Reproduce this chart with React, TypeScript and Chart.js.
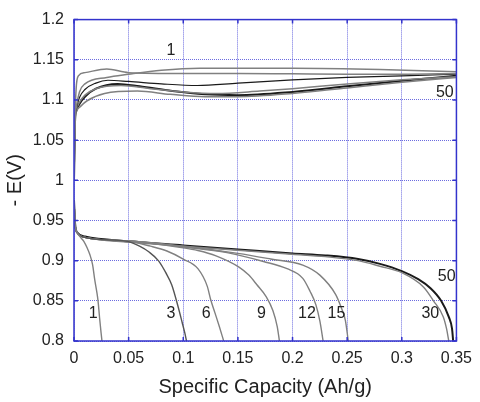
import React, { useEffect, useRef } from "react";
import { Chart, registerables } from "chart.js";

Chart.register(...registerables);

// ---- Data ----
const xTicks = [0, 0.05, 0.1, 0.15, 0.2, 0.25, 0.3, 0.35];
const yTicks = [0.8, 0.85, 0.9, 0.95, 1, 1.05, 1.1, 1.15, 1.2];

// Charge curves (upper bundle) [capacity, -E]
const charge1 = [[0,1.0],[0.001,1.08],[0.002,1.115],[0.004,1.13],[0.01,1.134],[0.03,1.1385],[0.05,1.134],[0.1,1.133],[0.15,1.133],[0.2,1.1325],[0.25,1.132],[0.3,1.132],[0.35,1.133]];
const charge2 = [[0,1.0],[0.001,1.075],[0.002,1.09],[0.005,1.11],[0.01,1.12],[0.03,1.128],[0.05,1.132],[0.08,1.137],[0.115,1.1395],[0.2,1.1395],[0.28,1.138],[0.35,1.135]];
const charge3 = [[0,1.0],[0.001,1.075],[0.002,1.088],[0.005,1.103],[0.01,1.113],[0.02,1.121],[0.031,1.1245],[0.05,1.123],[0.08,1.12],[0.113,1.118],[0.15,1.121],[0.2,1.125],[0.25,1.128],[0.3,1.13],[0.35,1.132]];
const charge4 = [[0,1.0],[0.001,1.075],[0.002,1.087],[0.005,1.097],[0.01,1.106],[0.02,1.114],[0.043,1.118],[0.07,1.114],[0.1,1.11],[0.13,1.108],[0.17,1.111],[0.2,1.114],[0.25,1.12],[0.3,1.125],[0.35,1.129]];
const charge50 = [[0,1.0],[0.001,1.075],[0.002,1.086],[0.005,1.095],[0.01,1.104],[0.02,1.114],[0.04,1.12],[0.06,1.117],[0.09,1.111],[0.12,1.107],[0.15,1.106],[0.2,1.11],[0.25,1.117],[0.3,1.124],[0.35,1.13]];
const charge6 = [[0,1.0],[0.001,1.075],[0.002,1.085],[0.006,1.092],[0.012,1.099],[0.028,1.108],[0.058,1.111],[0.088,1.107],[0.12,1.104],[0.15,1.104],[0.2,1.108],[0.25,1.115],[0.3,1.122],[0.35,1.128]];

// Discharge curves (lower bundle)
const discharge1 = [[0,0.975],[0.001,0.945],[0.003,0.935],[0.006,0.929],[0.009,0.924],[0.012,0.916],[0.0144,0.908],[0.017,0.895],[0.019,0.876],[0.021,0.86],[0.022,0.85],[0.0234,0.829],[0.0248,0.81],[0.0256,0.8]];
const discharge3 = [[0,0.975],[0.001,0.945],[0.003,0.935],[0.01,0.929],[0.03,0.926],[0.05,0.9236],[0.06,0.918],[0.0684,0.911],[0.0774,0.8997],[0.084,0.885],[0.0894,0.87],[0.0954,0.842],[0.099,0.823],[0.1014,0.81],[0.103,0.8]];
const discharge6 = [[0,0.975],[0.001,0.945],[0.003,0.935],[0.01,0.929],[0.05,0.924],[0.07,0.918],[0.085,0.912],[0.1,0.902],[0.1134,0.89],[0.122,0.868],[0.125,0.852],[0.129,0.835],[0.133,0.818],[0.137,0.8]];
const discharge9 = [[0,0.975],[0.001,0.945],[0.003,0.935],[0.01,0.929],[0.05,0.9245],[0.1,0.916],[0.1134,0.9127],[0.13,0.906],[0.151,0.892],[0.16,0.882],[0.1674,0.87],[0.176,0.855],[0.182,0.838],[0.186,0.818],[0.188,0.8]];
const discharge12 = [[0,0.975],[0.001,0.945],[0.003,0.935],[0.01,0.929],[0.05,0.9245],[0.1,0.917],[0.14,0.91],[0.1734,0.899],[0.195,0.89],[0.2094,0.878],[0.216,0.862],[0.2214,0.845],[0.225,0.825],[0.228,0.8]];
const discharge15 = [[0,0.975],[0.001,0.945],[0.003,0.935],[0.01,0.929],[0.05,0.9245],[0.1,0.918],[0.15,0.909],[0.18,0.902],[0.2094,0.8945],[0.225,0.882],[0.2394,0.858],[0.245,0.84],[0.2484,0.8255],[0.251,0.8]];
const discharge30 = [[0,0.975],[0.001,0.945],[0.003,0.934],[0.01,0.929],[0.05,0.923],[0.1,0.918],[0.15,0.913],[0.2,0.908],[0.23,0.905],[0.26,0.9],[0.28,0.893],[0.3,0.885],[0.32,0.867],[0.329,0.85],[0.338,0.83],[0.341,0.815],[0.343,0.8]];
const discharge50 = [[0,0.975],[0.001,0.946],[0.003,0.935],[0.01,0.93],[0.05,0.924],[0.1,0.919],[0.15,0.914],[0.2,0.909],[0.23,0.9065],[0.26,0.902],[0.28,0.896],[0.3,0.887],[0.315,0.877],[0.326,0.866],[0.336,0.85],[0.343,0.83],[0.346,0.815],[0.347,0.8]];

// Cycle labels [text, capacity, -E]
const cycleLabels: [string, number, number][] = [
  ["1", 0.0846, 1.161],
  ["50", 0.3312, 1.109],
  ["1", 0.0135, 0.834],
  ["3", 0.0846, 0.834],
  ["6", 0.117, 0.834],
  ["9", 0.1674, 0.834],
  ["12", 0.205, 0.834],
  ["15", 0.232, 0.834],
  ["30", 0.318, 0.834],
  ["50", 0.333, 0.88],
];

const GREY = "#808080";
const DARK = "#1a1a1a";
const BLUE = "#3333cc";
const GRID = "#6c6ce0";
const FONT = "'Liberation Sans', Arial, sans-serif";

const series: { pts: number[][]; color: string; width: number }[] = [
  { pts: charge1, color: GREY, width: 1.5 },
  { pts: charge2, color: GREY, width: 1.5 },
  { pts: charge3, color: DARK, width: 1.2 },
  { pts: charge4, color: GREY, width: 1.5 },
  { pts: charge6, color: GREY, width: 1.5 },
  { pts: charge50, color: DARK, width: 2 },
  { pts: discharge1, color: GREY, width: 1.4 },
  { pts: discharge3, color: "#555555", width: 1.4 },
  { pts: discharge6, color: GREY, width: 1.4 },
  { pts: discharge9, color: GREY, width: 1.4 },
  { pts: discharge12, color: GREY, width: 1.4 },
  { pts: discharge15, color: GREY, width: 1.4 },
  { pts: discharge30, color: GREY, width: 1.4 },
  { pts: discharge50, color: DARK, width: 2 },
];

const framePlugin = {
  id: "frame",
  afterDatasetsDraw(chart: any) {
    const { ctx, chartArea: a, scales } = chart;
    ctx.save();
    ctx.strokeStyle = BLUE;
    ctx.lineWidth = 1.5;
    ctx.strokeRect(a.left, a.top, a.right - a.left, a.bottom - a.top);
    const tl = 4;
    ctx.beginPath();
    xTicks.forEach((v) => {
      const px = scales.x.getPixelForValue(v);
      ctx.moveTo(px, a.bottom); ctx.lineTo(px, a.bottom - tl);
      ctx.moveTo(px, a.top); ctx.lineTo(px, a.top + tl);
    });
    yTicks.forEach((v) => {
      const py = scales.y.getPixelForValue(v);
      ctx.moveTo(a.left, py); ctx.lineTo(a.left + tl, py);
      ctx.moveTo(a.right, py); ctx.lineTo(a.right - tl, py);
    });
    ctx.stroke();
    ctx.fillStyle = "#222";
    ctx.font = `16px ${FONT}`;
    ctx.textAlign = "left";
    ctx.textBaseline = "bottom";
    cycleLabels.forEach(([t, x, y]) => {
      ctx.fillText(t, scales.x.getPixelForValue(x), scales.y.getPixelForValue(y) + 8);
    });
    ctx.restore();
  },
};

export default function App() {
  const ref = useRef<HTMLCanvasElement | null>(null);
  useEffect(() => {
    document.body.style.margin = "0";
    const canvas = ref.current!;
    const chart = new Chart(canvas, {
      type: "line",
      data: {
        datasets: series.map((s) => ({
          data: s.pts.map(([x, y]) => ({ x, y })),
          borderColor: s.color,
          borderWidth: s.width,
          pointRadius: 0,
          fill: false,
          cubicInterpolationMode: "monotone" as const,
        })),
      },
      options: {
        animation: false,
        responsive: false,
        maintainAspectRatio: false,
        layout: { padding: { left: 0, top: 12, right: 17, bottom: 0 } },
        plugins: { legend: { display: false }, tooltip: { enabled: false } },
        scales: {
          x: {
            type: "linear",
            min: 0,
            max: 0.35,
            afterBuildTicks: (s: any) => { s.ticks = xTicks.map((v) => ({ value: v })); },
            afterFit: (s: any) => { s.height = 61; },
            ticks: {
              color: "#222",
              font: { family: FONT, size: 16 },
              padding: 8,
              maxRotation: 0,
              callback: (v: any) => String(Number(Number(v).toFixed(2))),
            },
            grid: { color: GRID, lineWidth: 1, drawTicks: false },
            border: { display: false, dash: [1, 1] },
            title: {
              display: true,
              text: "Specific Capacity (Ah/g)",
              color: "#222",
              font: { family: FONT, size: 20 },
              padding: { top: 1, bottom: 3 },
            },
          },
          y: {
            type: "linear",
            min: 0.8,
            max: 1.2,
            afterBuildTicks: (s: any) => { s.ticks = yTicks.map((v) => ({ value: v })); },
            afterFit: (s: any) => { s.width = 74; },
            ticks: {
              color: "#222",
              font: { family: FONT, size: 16 },
              padding: 10,
              callback: (v: any) => String(Number(Number(v).toFixed(2))),
            },
            grid: { color: GRID, lineWidth: 1, drawTicks: false },
            border: { display: false, dash: [1, 1] },
            title: {
              display: true,
              text: "- E(V)",
              color: "#222",
              font: { family: FONT, size: 20 },
              padding: { top: 3, bottom: 4 },
            },
          },
        },
      },
      plugins: [framePlugin],
    });
    return () => chart.destroy();
  }, []);
  return <canvas ref={ref} width={480} height={402} style={{ display: "block" }} />;
}
